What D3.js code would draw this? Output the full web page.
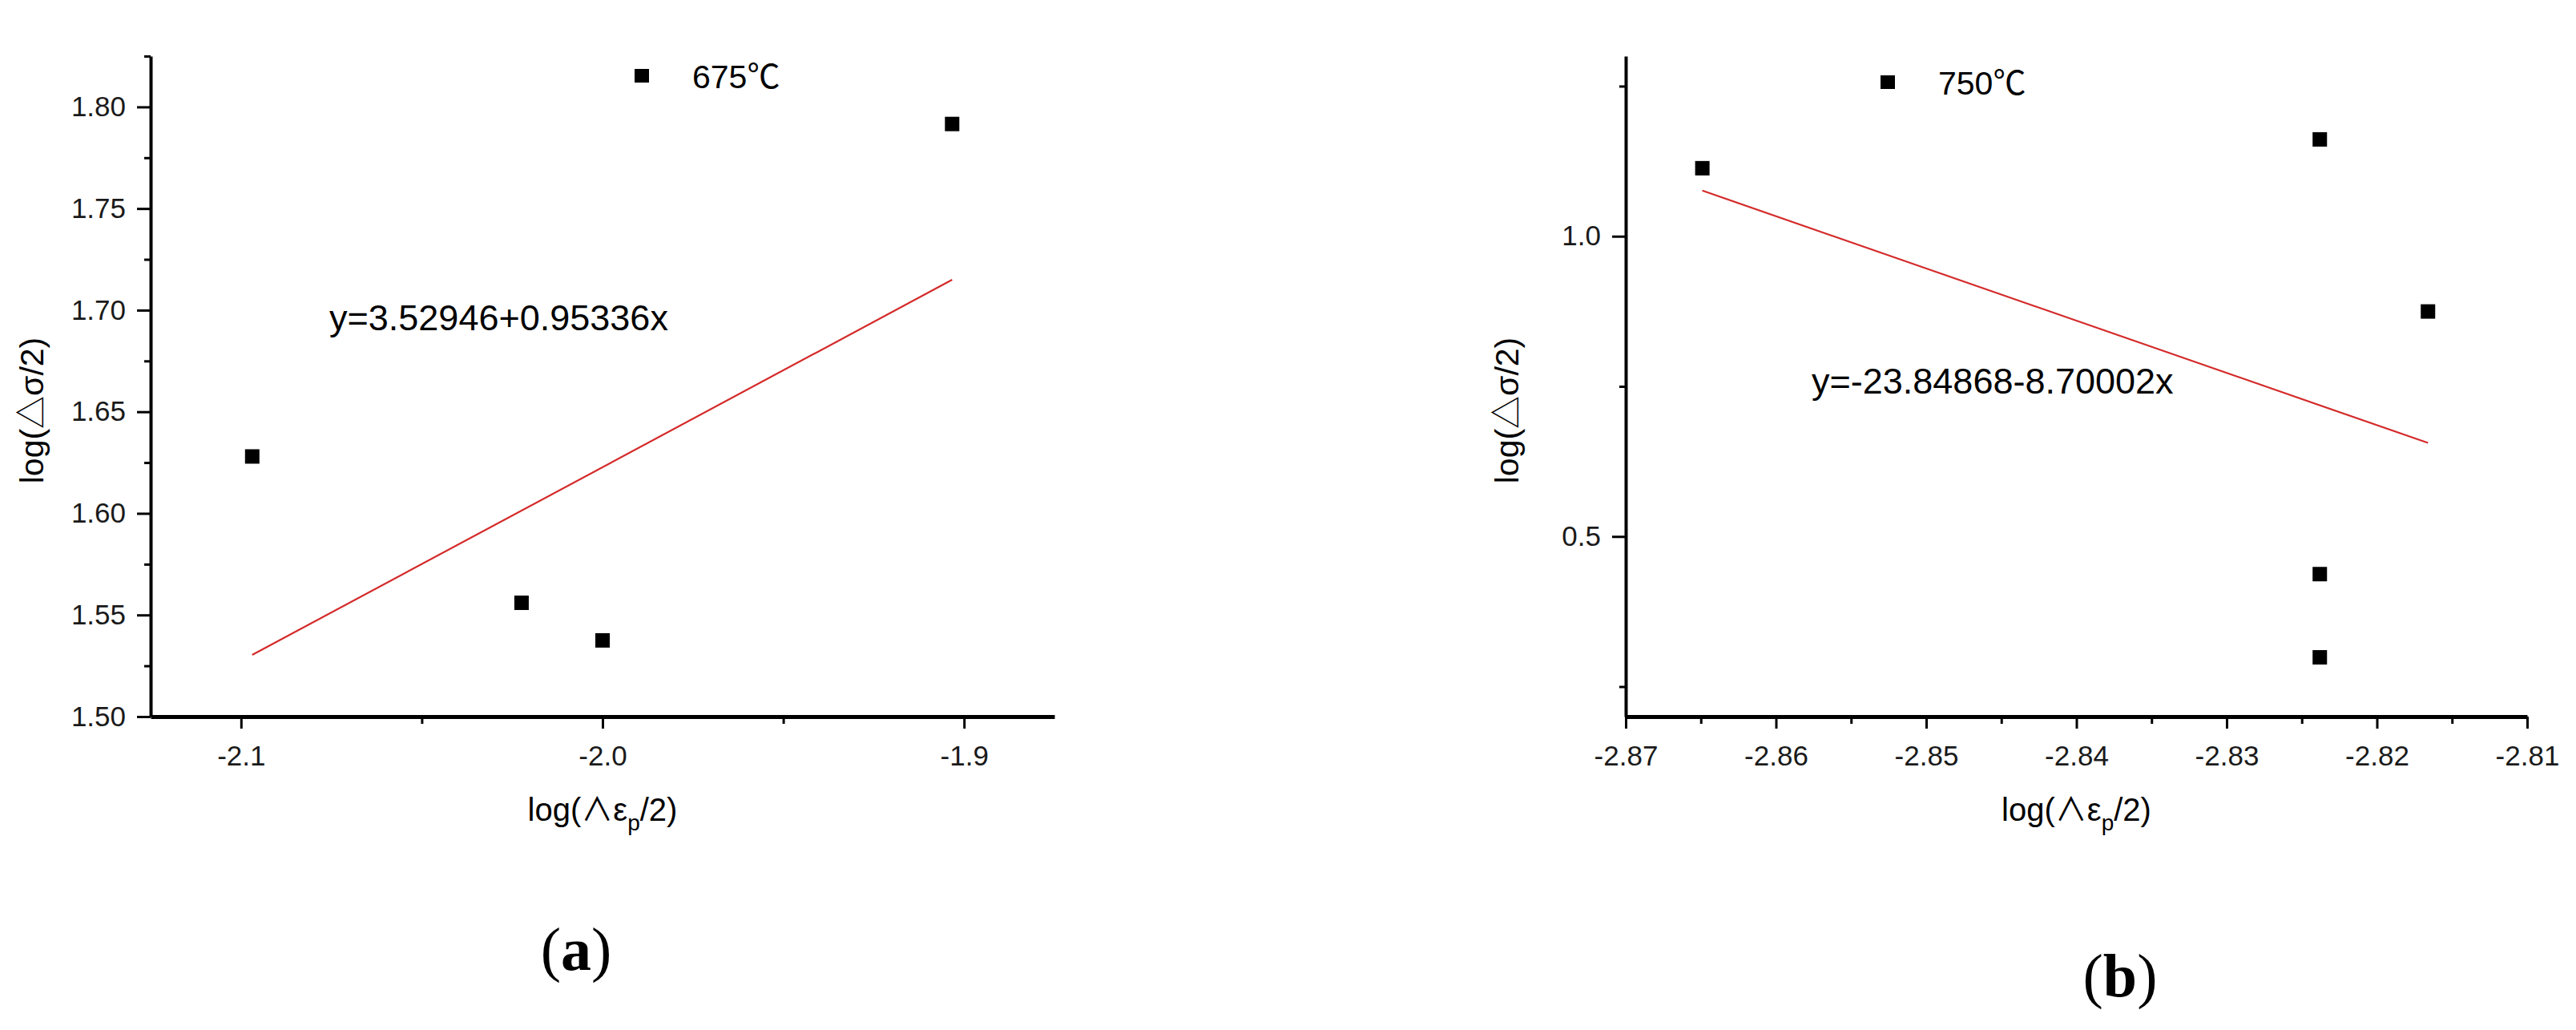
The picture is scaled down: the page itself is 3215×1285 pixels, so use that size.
<!DOCTYPE html>
<html><head><meta charset="utf-8">
<script src="https://cdn.jsdelivr.net/npm/d3@7"></script>
<style>body{margin:0;background:#fff}svg{display:block}</style>
</head><body><svg id="c" width="3215" height="1285"></svg>
<script>
// ---- data (panel a, 675 ℃) ----
const xA = [-2.0969, -2.0224, -2.0000, -1.9033];
const yA = [1.6280, 1.5560, 1.5375, 1.7916];
const fitA = [3.52946, 0.95336];           // intercept, slope
const eqA = "y=3.52946+0.95336x";
const legendA = "675℃";
const xMajorA = [-2.1, -2.0, -1.9];
const xMinorA = [-2.05, -1.95];
const yMajorA = [1.50, 1.55, 1.60, 1.65, 1.70, 1.75, 1.80];
const yMinorA = [1.525, 1.575, 1.625, 1.675, 1.725, 1.775, 1.825];
const xDomA = [-2.125, -1.875];
const yDomA = [1.50, 1.825];

// ---- data (panel b, 750 ℃) ----
const xB = [-2.8649, -2.8238, -2.8166, -2.8238, -2.8238];
const yB = [1.1133, 1.1613, 0.8747, 0.4373, 0.2987];
const fitB = [-23.84868, -8.70002];
const eqB = "y=-23.84868-8.70002x";
const legendB = "750℃";
const xMajorB = [-2.87, -2.86, -2.85, -2.84, -2.83, -2.82, -2.81];
const xMinorB = [-2.865, -2.855, -2.845, -2.835, -2.825, -2.815];
const yMajorB = [0.5, 1.0];
const yMinorB = [0.25, 0.75, 1.25];
const xDomB = [-2.87, -2.81];
const yDomB = [0.2, 1.3];

const yLabel = "log(△σ/2)";
const panelLabels = ["a", "b"];

const svg = d3.select("#c");
svg.append("rect").attr("width", 3215).attr("height", 1285).attr("fill", "#fff");
const SANS = "'Liberation Sans', Arial, 'Noto Sans CJK SC', sans-serif";
const fmt = p => { const f = d3.format(p); return v => f(v).replace("\u2212", "-"); };

function panel(o) {
  const g = svg.append("g");
  const x = d3.scaleLinear().domain(o.xDom).range([o.left, o.right]);
  const y = d3.scaleLinear().domain(o.yDom).range([o.bottom, o.top]);

  // minor ticks
  const yMin = g.append("g").attr("transform", `translate(${o.left},0)`)
    .call(d3.axisLeft(y).tickValues(o.yMinor).tickSize(8).tickSizeOuter(0).tickFormat(""));
  const xMin = g.append("g").attr("transform", `translate(0,${o.bottom})`)
    .call(d3.axisBottom(x).tickValues(o.xMinor).tickSize(9).tickSizeOuter(0).tickFormat(""));
  [yMin, xMin].forEach(a => { a.select(".domain").remove(); a.selectAll("line").attr("stroke", "#000").attr("stroke-width", 3); });

  // major axes
  const ya = g.append("g").attr("transform", `translate(${o.left},0)`)
    .call(d3.axisLeft(y).tickValues(o.yMajor).tickSize(17).tickSizeOuter(0).tickPadding(14).tickFormat(o.yFmt));
  const xa = g.append("g").attr("transform", `translate(0,${o.bottom})`)
    .call(d3.axisBottom(x).tickValues(o.xMajor).tickSize(15).tickSizeOuter(0).tickPadding(21).tickFormat(o.xFmt));
  ya.select(".domain").attr("stroke", "#000").attr("stroke-width", 4);
  xa.select(".domain").attr("stroke", "#000").attr("stroke-width", 5);
  [ya, xa].forEach(a => {
    a.selectAll("line").attr("stroke", "#000").attr("stroke-width", 3);
    a.selectAll("text").attr("fill", "#1a1a1a").style("font-family", SANS).style("font-size", "35px");
  });

  // fit line
  const x0 = d3.min(o.xs), x1 = d3.max(o.xs);
  g.append("line")
    .attr("x1", x(x0)).attr("y1", y(o.fit[0] + o.fit[1] * x0))
    .attr("x2", x(x1)).attr("y2", y(o.fit[0] + o.fit[1] * x1))
    .attr("stroke", "#d42a2a").attr("stroke-width", 2.2);

  // points
  g.selectAll("rect.pt").data(o.xs.map((v, i) => [v, o.ys[i]])).enter().append("rect")
    .attr("class", "pt")
    .attr("x", d => x(d[0]) - 9).attr("y", d => y(d[1]) - 9)
    .attr("width", 18).attr("height", 18).attr("fill", "#000");

  // legend
  g.append("rect").attr("x", o.legX - 9).attr("y", o.legY - 9).attr("width", 18).attr("height", 17).attr("fill", "#000");
  g.append("text").attr("x", o.legX + 63).attr("y", o.legY + 15)
    .style("font-family", SANS).style("font-size", "41px").attr("fill", "#000").text(o.legend);

  // equation
  g.append("text").attr("x", o.eqX).attr("y", o.eqY)
    .style("font-family", SANS).style("font-size", "45px").attr("fill", "#000").text(o.eq);

  // y label
  g.append("text").attr("transform", `translate(${o.left - 134},${(o.top + o.bottom) / 2 + 30}) rotate(-90)`)
    .attr("text-anchor", "middle")
    .style("font-family", SANS).style("font-size", "41px").attr("fill", "#000").text(yLabel);

  // x label
  const xl = g.append("text").attr("x", (o.left + o.right) / 2).attr("y", 1024)
    .attr("text-anchor", "middle")
    .style("font-family", SANS).style("font-size", "40px").attr("fill", "#000");
  xl.append("tspan").text("log(∧ε");
  xl.append("tspan").attr("dy", 12).style("font-size", "28px").text("p");
  xl.append("tspan").attr("dy", -12).text("/2)");

  // panel label
  svg.append("text").attr("x", o.pX).attr("y", o.pY).attr("text-anchor", "middle")
    .style("font-family", "'Liberation Serif', 'Times New Roman', serif").style("font-size", "76px")
    .attr("fill", "#000")
    .html(`(<tspan font-weight="bold">${o.plabel}</tspan>)`);
}

panel({
  xs: xA, ys: yA, fit: fitA, eq: eqA, legend: legendA,
  xMajor: xMajorA, xMinor: xMinorA, yMajor: yMajorA, yMinor: yMinorA,
  xDom: xDomA, yDom: yDomA,
  xFmt: fmt(".1f"), yFmt: fmt(".2f"),
  left: 188, right: 1316, top: 70, bottom: 894,
  legX: 801, legY: 95, eqX: 411, eqY: 412,
  pX: 719, pY: 1210, plabel: panelLabels[0]
});
panel({
  xs: xB, ys: yB, fit: fitB, eq: eqB, legend: legendB,
  xMajor: xMajorB, xMinor: xMinorB, yMajor: yMajorB, yMinor: yMinorB,
  xDom: xDomB, yDom: yDomB,
  xFmt: fmt(".2f"), yFmt: fmt(".1f"),
  left: 2029, right: 3154, top: 70, bottom: 894,
  legX: 2356, legY: 103, eqX: 2261, eqY: 491,
  pX: 2646, pY: 1243, plabel: panelLabels[1]
});
</script></body></html>
